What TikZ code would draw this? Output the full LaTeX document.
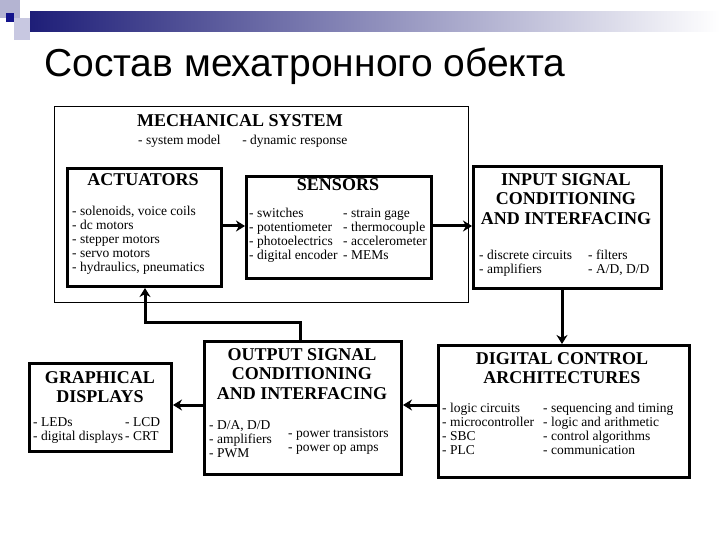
\documentclass[tikz,border=0pt]{standalone}
\usepackage{fontspec}
\setmainfont{Liberation Serif}
\newfontfamily\titlefont{Liberation Sans}
\usetikzlibrary{arrows.meta}
\definecolor{hdblue}{RGB}{30,30,120}
\definecolor{sqA}{RGB}{180,180,210}
\definecolor{sqB}{RGB}{200,200,225}
\definecolor{sqC}{RGB}{20,20,140}
\begin{document}
\begin{tikzpicture}[x=1pt,y=-1pt,
  thick box/.style={draw,line width=3pt,fill=white},
  thin box/.style={draw,line width=1pt},
  hd/.style={font=\fontsize{18}{19.5}\selectfont\bfseries,align=center,inner sep=0},
  it/.style={font=\fontsize{13.5}{14}\selectfont,align=left,anchor=north west,inner sep=0},
  conn/.style={line width=3pt,-{Stealth[length=9pt,width=11pt]}}]
\useasboundingbox (0,0) rectangle (720,540);
\fill[white] (0,0) rectangle (720,540);
% header decoration
\shade[left color=hdblue,right color=white] (30,12) rectangle (720,32);
\fill[sqA] (0,0) rectangle (20,18);
\fill[sqB] (14,18) rectangle (30,40);
\fill[sqC] (6,13) rectangle (14,22);
\node[anchor=west,font=\titlefont\fontsize{39}{42}\selectfont,inner sep=0] (title) at (44,66) {Состав мехатронного обекта};
% mechanical system
\node[thin box,minimum width=414pt,minimum height=196pt,anchor=north west] (mech) at (54,106) {};
\node[hd,anchor=north] (mecht) at (240,114) {MECHANICAL SYSTEM};
\node[it] (mechi) at (138,135) {- system model\hspace{1.6em}- dynamic response};
% actuators
\node[thick box,minimum width=154pt,minimum height=118pt,anchor=north west] (act) at (66,167) {};
\node[hd,anchor=north] (actt) at (143,173) {ACTUATORS};
\node[it] (acti) at (72,206) {- solenoids, voice coils\\- dc motors\\- stepper motors\\- servo motors\\- hydraulics, pneumatics};
% sensors
\node[thick box,minimum width=185pt,minimum height=102pt,anchor=north west] (sens) at (245,175) {};
\node[hd,anchor=north] (senst) at (338,178) {SENSORS};
\node[it] (sensa) at (249,208) {- switches\\- potentiometer\\- photoelectrics\\- digital encoder};
\node[it] (sensb) at (343,208) {- strain gage\\- thermocouple\\- accelerometer\\- MEMs};
% input
\node[thick box,minimum width=188pt,minimum height=122pt,anchor=north west] (inp) at (472,165) {};
\node[hd,anchor=north] (inpt) at (566,173) {INPUT SIGNAL\\CONDITIONING\\AND INTERFACING};
\node[it] (inpa) at (479,250) {- discrete circuits\\- amplifiers};
\node[it] (inpb) at (588,250) {- filters\\- A/D, D/D};
% digital
\node[thick box,minimum width=251pt,minimum height=132pt,anchor=north west] (dig) at (437,344) {};
\node[hd,anchor=north] (digt) at (562,352) {DIGITAL CONTROL\\ARCHITECTURES};
\node[it] (diga) at (442,403) {- logic circuits\\- microcontroller\\- SBC\\- PLC};
\node[it] (digb) at (543,403) {- sequencing and timing\\- logic and arithmetic\\- control algorithms\\- communication};
% output
\node[thick box,minimum width=197pt,minimum height=133pt,anchor=north west] (out) at (203,340) {};
\node[hd,anchor=north] (outt) at (302,348) {OUTPUT SIGNAL\\CONDITIONING\\AND INTERFACING};
\node[it] (outa) at (209,420) {- D/A, D/D\\- amplifiers\\- PWM};
\node[it] (outb) at (288,428) {- power transistors\\- power op amps};
% graphical
\node[thick box,minimum width=142pt,minimum height=88pt,anchor=north west] (gra) at (28,362) {};
\node[hd,anchor=north] (grat) at (100,371) {GRAPHICAL\\DISPLAYS};
\node[it] (graa) at (33,417) {- LEDs\\- digital displays};
\node[it] (grab) at (125,417) {- LCD\\- CRT};
% connectors
\draw[conn] (act.east |- 0,226) -- (sens.west |- 0,226);
\draw[conn] (sens.east |- 0,226) -- (inp.west |- 0,226);
\draw[conn] (inp.south -| 562,0) -- (dig.north -| 562,0);
\draw[conn] (dig.west |- 0,405) -- (out.east |- 0,405);
\draw[conn] (out.west |- 0,405) -- (gra.east |- 0,405);
\draw[conn] (out.north -| 300,0) -- (300,322) -- (145,322) -- (act.south -| 145,0);
\end{tikzpicture}
\end{document}
